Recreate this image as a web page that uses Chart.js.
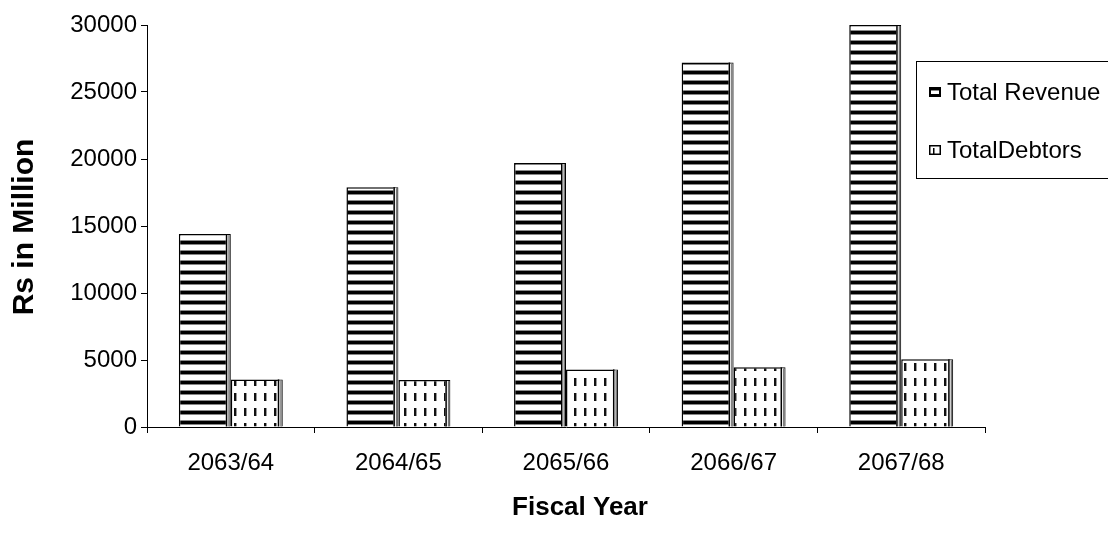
<!DOCTYPE html>
<html>
<head>
<meta charset="utf-8">
<script src="https://cdn.jsdelivr.net/npm/chart.js@4"></script>
<style>
  html, body { margin: 0; padding: 0; background: #fff; }
  #wrap { width: 1108px; height: 549px; position: relative; }
</style>
</head>
<body>
<div id="wrap"><canvas id="chart"></canvas></div>
<script>
// Fiscal years and values (Rs in Million)
const categories = ['2063/64', '2064/65', '2065/66', '2066/67', '2067/68'];
const totalRevenue = [14400, 17900, 19700, 27200, 30000];
const totalDebtors = [3550, 3500, 4300, 4450, 5050];
const seriesLabels = ['Total Revenue', 'TotalDebtors'];
const yTicks = [0, 5000, 10000, 15000, 20000, 25000, 30000];
const xTitle = 'Fiscal Year';
const yTitle = 'Rs in Million';

const FONT = "'Liberation Sans', Arial, sans-serif";

// Horizontal black/white stripe fill
function stripePattern() {
  const c = document.createElement('canvas');
  c.width = 4; c.height = 10;
  const g = c.getContext('2d');
  g.fillStyle = '#fff'; g.fillRect(0, 0, 4, 10);
  g.fillStyle = '#888'; g.fillRect(0, 0, 4, 1);
  g.fillStyle = '#000'; g.fillRect(0, 1, 4, 3);
  g.fillStyle = '#888'; g.fillRect(0, 4, 4, 1);
  return g.createPattern(c, 'repeat');
}

// White fill with short vertical dashes
function dashPattern() {
  const c = document.createElement('canvas');
  c.width = 10; c.height = 15;
  const g = c.getContext('2d');
  g.fillStyle = '#fff'; g.fillRect(0, 0, 10, 15);
  g.fillStyle = '#111'; g.fillRect(4, 3, 2, 8);
  g.fillStyle = '#999'; g.fillRect(6, 3, 1, 8);
  return g.createPattern(c, 'repeat');
}

const fills = [stripePattern(), dashPattern()];

// Shaded right side on each bar
const barSides = {
  id: 'barSides',
  afterDatasetsDraw(chart) {
    const ctx = chart.ctx;
    chart.data.datasets.forEach((ds, i) => {
      chart.getDatasetMeta(i).data.forEach(bar => {
        const right = bar.x + bar.width / 2;
        const top = bar.y;
        const h = bar.base - bar.y;
        ctx.save();
        ctx.fillStyle = '#fff';
        ctx.fillRect(right - 5, top + 1, 4, h - 1);
        ctx.fillStyle = '#000';
        ctx.fillRect(right - 5, top, 1.5, h);
        ctx.fillStyle = '#777';
        ctx.fillRect(right - 2.5, top + 1, 1.5, h - 1);
        ctx.restore();
      });
    });
  }
};

// Axis titles
const axisTitles = {
  id: 'axisTitles',
  afterDraw(chart) {
    const ctx = chart.ctx;
    ctx.save();
    ctx.fillStyle = '#000';
    ctx.textAlign = 'center';
    ctx.textBaseline = 'middle';
    ctx.font = 'bold 26px ' + FONT;
    ctx.fillText(xTitle, 580, 508);
    ctx.translate(25, 227);
    ctx.rotate(-Math.PI / 2);
    ctx.font = 'bold 30px ' + FONT;
    ctx.fillText(yTitle, 0, 0);
    ctx.restore();
  }
};

// Boxed legend at the right
const boxLegend = {
  id: 'boxLegend',
  afterDraw(chart) {
    const ctx = chart.ctx;
    ctx.save();
    ctx.strokeStyle = '#000';
    ctx.lineWidth = 1;
    ctx.strokeRect(916.5, 61.5, 220, 117);
    const rows = [92, 150];
    chart.data.datasets.forEach((ds, i) => {
      const cy = rows[i];
      const x = 929, y = cy - 5, w = 12, h = 10;
      ctx.fillStyle = '#fff';
      ctx.fillRect(x, y, w, h);
      if (i === 0) {
        ctx.fillStyle = '#000';
        ctx.fillRect(x, y, w, 3);
        ctx.fillRect(x, y + h - 3, w, 3);
        ctx.fillRect(x, y, 2, h);
        ctx.fillRect(x + w - 2, y, 2, h);
        ctx.fillStyle = '#888';
        ctx.fillRect(x + 2, y + 3, w - 4, 1);
      } else {
        ctx.strokeStyle = '#000';
        ctx.lineWidth = 1.5;
        ctx.strokeRect(x + 0.75, y + 0.75, w - 1.5, h - 1.5);
        ctx.fillStyle = '#000';
        ctx.fillRect(x + 4, y + 3, 1.5, h - 3);
      }
      ctx.fillStyle = '#000';
      ctx.font = '24px ' + FONT;
      ctx.textBaseline = 'middle';
      ctx.textAlign = 'left';
      ctx.fillText(ds.label, 947, cy + 1);
    });
    ctx.restore();
  }
};

new Chart(document.getElementById('chart'), {
  type: 'bar',
  data: {
    labels: categories,
    datasets: [
      { label: seriesLabels[0], data: totalRevenue, backgroundColor: fills[0],
        borderColor: '#000', borderWidth: 1.5, borderSkipped: 'start' },
      { label: seriesLabels[1], data: totalDebtors, backgroundColor: fills[1],
        borderColor: '#000', borderWidth: 1.5, borderSkipped: 'start' }
    ]
  },
  options: {
    responsive: true,
    maintainAspectRatio: false,
    animation: false,
    layout: { padding: { top: 25, right: 123, bottom: 0, left: 0 } },
    datasets: { bar: { categoryPercentage: 0.62, barPercentage: 1.0 } },
    plugins: {
      legend: { display: false },
      tooltip: { enabled: false }
    },
    scales: {
      x: {
        grid: { drawOnChartArea: false, drawTicks: true, tickLength: 6, color: '#000', offset: true },
        border: { color: '#000', width: 1 },
        ticks: { color: '#000', font: { family: FONT, size: 24 }, padding: 16, maxRotation: 0 },
        afterFit(scale) { scale.height = 122; }
      },
      y: {
        min: 0, max: 30000,
        afterBuildTicks(scale) { scale.ticks = yTicks.map(v => ({ value: v })); },
        grid: { drawOnChartArea: false, drawTicks: true, tickLength: 6, color: '#000' },
        border: { color: '#000', width: 1 },
        ticks: { color: '#000', font: { family: FONT, size: 24 }, padding: 4,
          callback: v => String(v) },
        afterFit(scale) { scale.width = 147; }
      }
    }
  },
  plugins: [barSides, axisTitles, boxLegend]
});
</script>
</body>
</html>
